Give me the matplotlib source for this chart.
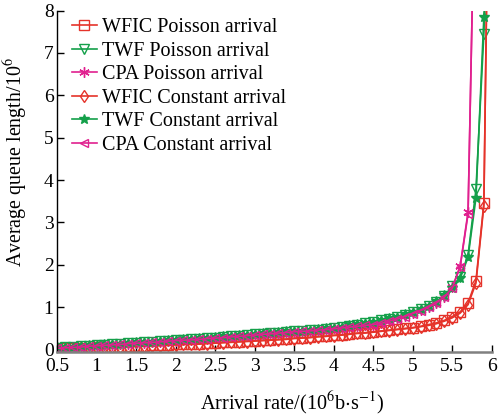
import matplotlib.pyplot as plt
import numpy as np

plt.rcParams['font.family'] = 'Liberation Serif'
plt.rcParams['mathtext.fontset'] = 'stix'

# arrival rate (10^6 b/s), one marker every 0.1
rate = np.round(np.arange(0.5, 5.95, 0.1), 2)

# WFIC (red)
wfic_poisson = [0.02, 0.03, 0.03, 0.04, 0.04, 0.05, 0.06, 0.06, 0.07, 0.08,
                0.08, 0.09, 0.10, 0.10, 0.11, 0.12, 0.13, 0.13, 0.14, 0.15,
                0.16, 0.17, 0.18, 0.19, 0.20, 0.21, 0.22, 0.23, 0.24, 0.25,
                0.27, 0.28, 0.29, 0.31, 0.32, 0.34, 0.35, 0.37, 0.39, 0.40,
                0.42, 0.44, 0.46, 0.48, 0.50, 0.52, 0.55, 0.59, 0.63, 0.69,
                0.78, 0.89, 1.10, 1.63, 3.46]
wfic_const = [0.01, 0.02, 0.02, 0.03, 0.03, 0.04, 0.05, 0.05, 0.06, 0.07,
              0.07, 0.08, 0.09, 0.09, 0.10, 0.11, 0.12, 0.12, 0.13, 0.14,
              0.15, 0.16, 0.17, 0.18, 0.19, 0.20, 0.21, 0.22, 0.23, 0.24,
              0.26, 0.27, 0.28, 0.30, 0.31, 0.33, 0.34, 0.36, 0.38, 0.39,
              0.41, 0.43, 0.45, 0.47, 0.49, 0.51, 0.54, 0.57, 0.61, 0.67,
              0.75, 0.86, 1.06, 1.57, 3.40]

# TWF (green)
twf_poisson = [0.04, 0.05, 0.06, 0.08, 0.09, 0.10, 0.11, 0.12, 0.14, 0.15,
               0.16, 0.17, 0.18, 0.20, 0.21, 0.22, 0.23, 0.24, 0.26, 0.27,
               0.28, 0.30, 0.31, 0.33, 0.34, 0.36, 0.37, 0.39, 0.40, 0.42,
               0.43, 0.44, 0.46, 0.47, 0.49, 0.50, 0.53, 0.56, 0.59, 0.62,
               0.65, 0.69, 0.73, 0.77, 0.82, 0.88, 0.95, 1.03, 1.13, 1.27,
               1.49, 1.71, 2.23, 3.78, 7.45]
twf_const = [0.05, 0.06, 0.07, 0.08, 0.10, 0.11, 0.12, 0.13, 0.14, 0.16,
             0.17, 0.18, 0.19, 0.21, 0.22, 0.23, 0.24, 0.25, 0.27, 0.28,
             0.29, 0.31, 0.32, 0.34, 0.35, 0.37, 0.38, 0.40, 0.41, 0.43,
             0.44, 0.45, 0.47, 0.48, 0.50, 0.51, 0.54, 0.57, 0.60, 0.63,
             0.66, 0.70, 0.74, 0.78, 0.83, 0.89, 0.96, 1.04, 1.14, 1.28,
             1.45, 1.68, 2.18, 3.58, 7.85]

# CPA (magenta), ends at 5.7
cpa_poisson = [0.03, 0.04, 0.05, 0.07, 0.08, 0.09, 0.10, 0.11, 0.13, 0.14,
               0.15, 0.16, 0.17, 0.19, 0.20, 0.21, 0.22, 0.23, 0.25, 0.26,
               0.27, 0.29, 0.30, 0.32, 0.33, 0.35, 0.36, 0.38, 0.39, 0.41,
               0.42, 0.43, 0.45, 0.46, 0.48, 0.50, 0.51, 0.53, 0.55, 0.57,
               0.59, 0.63, 0.68, 0.73, 0.79, 0.86, 0.93, 1.01, 1.11, 1.25,
               1.47, 1.97, 3.25]
cpa_const = [0.03, 0.04, 0.05, 0.06, 0.08, 0.09, 0.10, 0.11, 0.12, 0.14,
             0.15, 0.16, 0.17, 0.18, 0.20, 0.21, 0.22, 0.23, 0.24, 0.26,
             0.27, 0.28, 0.30, 0.31, 0.33, 0.34, 0.36, 0.37, 0.39, 0.40,
             0.42, 0.43, 0.44, 0.46, 0.47, 0.49, 0.51, 0.53, 0.55, 0.57,
             0.59, 0.62, 0.67, 0.72, 0.78, 0.85, 0.92, 1.00, 1.10, 1.24,
             1.45, 1.95, 3.20]

# where each curve leaves the top of the plot (no marker there)
wfic_tail = (5.935, 8.3)
twf_tail = (5.915, 8.3)
cpa_tail = (5.755, 8.3)

red = '#e5332a'
green = '#14a04a'
pink = '#e0208f'

fig = plt.figure(figsize=(4.98, 4.17), dpi=100)
ax = fig.add_axes([0.1145, 0.1566, 0.873, 0.818])


def curve(x, y, tail, color, marker, label, ms=6.5, filled=False):
    xs = list(x) + [tail[0]]
    ys = list(y) + [tail[1]]
    ax.plot(xs, ys, color=color, lw=1.2, marker=marker, ms=ms,
            mfc=color if filled else 'none', mec=color, mew=1.0,
            markevery=list(range(len(x))), label=label)


curve(rate, wfic_poisson, wfic_tail, red, 's', 'WFIC Poisson arrival')
curve(rate, twf_poisson, twf_tail, green, 'v', 'TWF Poisson arrival', ms=7.5)
curve(rate[:len(cpa_poisson)], cpa_poisson, cpa_tail, pink, (6, 2, 0),
      'CPA Poisson arrival', ms=7.5)
curve(rate, wfic_const, wfic_tail, red, 'd', 'WFIC Constant arrival')
curve(rate, twf_const, twf_tail, green, '*', 'TWF Constant arrival', ms=7.5, filled=True)
curve(rate[:len(cpa_const)], cpa_const, cpa_tail, pink, '<', 'CPA Constant arrival', ms=5.5)

ax.set_xlim(0.5, 6.0)
ax.set_ylim(-0.05, 8)
ax.set_xticks(np.arange(0.5, 6.01, 0.5))
ax.set_xticklabels(['0.5', '1', '1.5', '2', '2.5', '3', '3.5', '4', '4.5', '5', '5.5', '6'])
ax.set_yticks(range(0, 9))

ax.spines['top'].set_visible(False)
ax.spines['right'].set_visible(False)
ax.spines['bottom'].set_color('#808080')
ax.spines['bottom'].set_linewidth(1.8)
ax.spines['left'].set_linewidth(1.0)
ax.tick_params(direction='in', length=5, width=1.0, labelsize=14)
ax.tick_params(axis='x', pad=4.5)
ax.tick_params(axis='y', pad=2.5)

ax.set_xlabel('Arrival rate/(10$^6$b$\\cdot$s$^{-1}$)', fontsize=14.6)
ax.xaxis.set_label_coords(0.542, -0.113)
ax.set_ylabel('Average queue length/10$^6$', fontsize=14.4)
ax.yaxis.set_label_coords(-0.062, 0.555)

ax.legend(loc='upper left', frameon=False, fontsize=14.5, labelspacing=0.22,
          handlelength=1.25, handletextpad=0.25, borderpad=0, borderaxespad=0,
          bbox_to_anchor=(0.034, 0.978))

fig.savefig('out.png', dpi=100)
